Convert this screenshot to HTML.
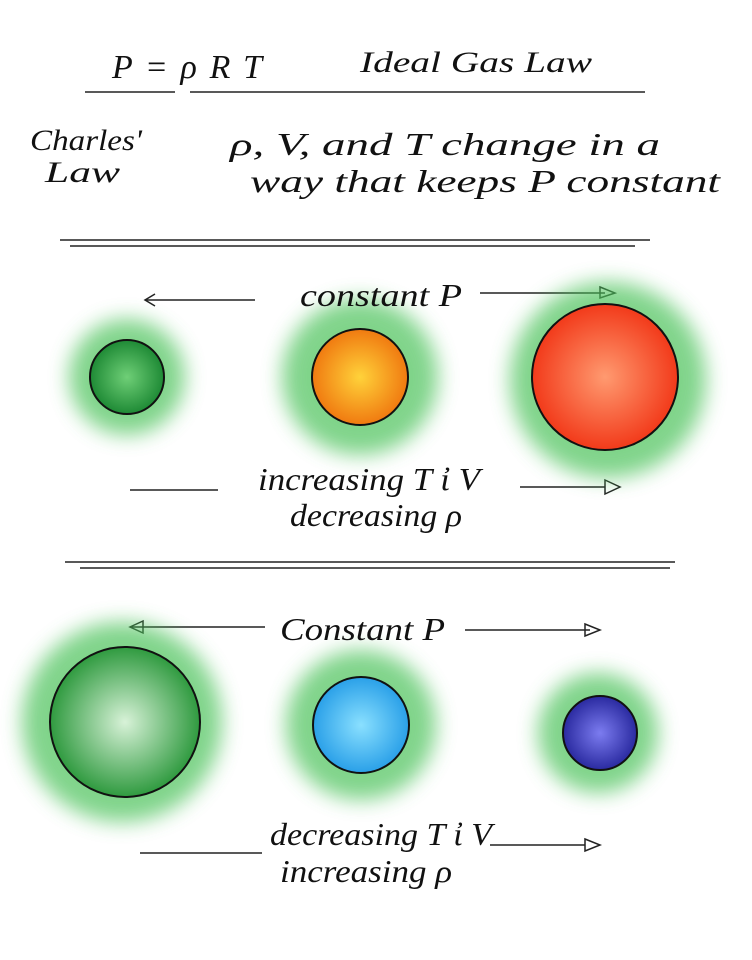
<!DOCTYPE html>
<html><head><meta charset="utf-8"><style>
body{margin:0;background:#fff}
svg{display:block}
text{font-family:"Liberation Serif",serif;fill:#111;font-style:italic}
</style></head><body>
<svg width="752" height="960" viewBox="0 0 752 960">
<defs>
<filter id="b" x="-50%" y="-50%" width="200%" height="200%"><feGaussianBlur stdDeviation="10"/></filter>
<radialGradient id="gg"><stop offset="0" stop-color="#6fcf77"/><stop offset="1" stop-color="#1e8a35"/></radialGradient>
<radialGradient id="go"><stop offset="0" stop-color="#ffd23a"/><stop offset="1" stop-color="#f07a10"/></radialGradient>
<radialGradient id="gr"><stop offset="0" stop-color="#ff9a70"/><stop offset="1" stop-color="#f23a1a"/></radialGradient>
<radialGradient id="gb"><stop offset="0" stop-color="#8ae0ff"/><stop offset="1" stop-color="#2aa0e8"/></radialGradient>
<radialGradient id="gp"><stop offset="0" stop-color="#7c7cf0"/><stop offset="1" stop-color="#2a2aa0"/></radialGradient>
<radialGradient id="gl"><stop offset="0" stop-color="#d8f2d8"/><stop offset="1" stop-color="#2f9a3f"/></radialGradient>
</defs>
<g stroke="#222" stroke-width="1.5" fill="none">
<line x1="85" y1="92" x2="175" y2="92"/><line x1="190" y1="92" x2="645" y2="92"/>
<line x1="60" y1="240" x2="650" y2="240"/><line x1="70" y1="246" x2="635" y2="246"/>
<line x1="65" y1="562" x2="675" y2="562"/><line x1="80" y1="568" x2="670" y2="568"/>
<line x1="145" y1="300" x2="255" y2="300"/><path d="M155 294 L145 300 L155 306"/>
<line x1="480" y1="293" x2="605" y2="293"/><path d="M600 287 L615 293 L600 298 Z"/>
<line x1="130" y1="490" x2="218" y2="490"/>
<line x1="520" y1="487" x2="605" y2="487"/><path d="M605 480 L620 487 L605 494 Z"/>
<line x1="130" y1="627" x2="265" y2="627"/><path d="M143 621 L130 627 L143 633 Z"/>
<line x1="465" y1="630" x2="590" y2="630"/><path d="M585 624 L600 630 L585 636 Z"/>
<line x1="140" y1="853" x2="262" y2="853"/>
<line x1="490" y1="845" x2="585" y2="845"/><path d="M585 839 L600 845 L585 851 Z"/>
</g>
<g filter="url(#b)" fill="#4cc25a" opacity="0.7">
<circle cx="127" cy="377" r="58"/><circle cx="360" cy="377" r="78"/><circle cx="608" cy="380" r="98"/>
<circle cx="122" cy="722" r="100"/><circle cx="361" cy="725" r="75"/><circle cx="598" cy="733" r="60"/>
</g>
<g stroke="#111" stroke-width="2">
<circle cx="127" cy="377" r="37" fill="url(#gg)"/>
<circle cx="360" cy="377" r="48" fill="url(#go)"/>
<circle cx="605" cy="377" r="73" fill="url(#gr)"/>
<circle cx="125" cy="722" r="75" fill="url(#gl)"/>
<circle cx="361" cy="725" r="48" fill="url(#gb)"/>
<circle cx="600" cy="733" r="37" fill="url(#gp)"/>
</g>
<text x="112" y="78" font-size="34" textLength="150" lengthAdjust="spacing">P = ρ R T</text>
<text x="360" y="72" font-size="30" textLength="232" lengthAdjust="spacingAndGlyphs">Ideal Gas Law</text>
<text x="30" y="150" font-size="30" textLength="112" lengthAdjust="spacingAndGlyphs">Charles'</text>
<text x="45" y="182" font-size="30" textLength="75" lengthAdjust="spacingAndGlyphs">Law</text>
<text x="230" y="155" font-size="32" textLength="430" lengthAdjust="spacingAndGlyphs">ρ, V, and T  change  in  a</text>
<text x="250" y="192" font-size="32" textLength="470" lengthAdjust="spacingAndGlyphs">way  that  keeps  P constant</text>
<text x="300" y="306" font-size="32" textLength="162" lengthAdjust="spacingAndGlyphs">constant  P</text>
<text x="258" y="490" font-size="32" textLength="222" lengthAdjust="spacingAndGlyphs">increasing T ἰ V</text>
<text x="290" y="526" font-size="32" textLength="172" lengthAdjust="spacingAndGlyphs">decreasing ρ</text>
<text x="280" y="640" font-size="32" textLength="165" lengthAdjust="spacingAndGlyphs">Constant  P</text>
<text x="270" y="845" font-size="32" textLength="222" lengthAdjust="spacingAndGlyphs">decreasing T ἰ V</text>
<text x="280" y="882" font-size="32" textLength="172" lengthAdjust="spacingAndGlyphs">increasing ρ</text>
</svg>
</body></html>
